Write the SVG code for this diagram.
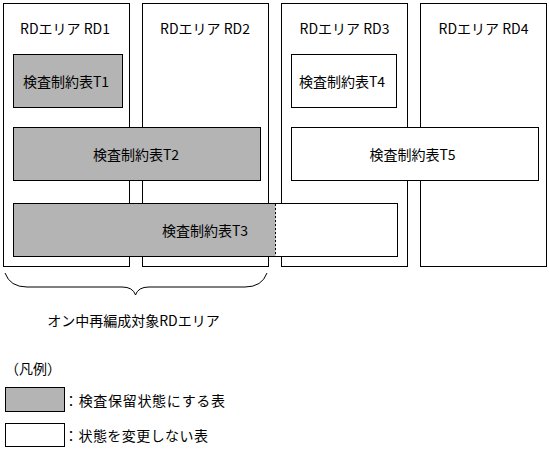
<svg xmlns="http://www.w3.org/2000/svg" width="549" height="450" viewBox="0 0 549 450">
<style>
.area{fill:#fff;stroke:#000;stroke-width:1;shape-rendering:crispEdges}
.hold{fill:#b4b4b4;stroke:#000;stroke-width:1;shape-rendering:crispEdges}
.keep{fill:#fff;stroke:#000;stroke-width:1;shape-rendering:crispEdges}
text{font-family:"MS Gothic","Noto Sans CJK JP","Noto Sans",sans-serif;font-size:14px;fill:#000}
.c{text-anchor:middle;dominant-baseline:central}
.l{dominant-baseline:central}
</style>
<rect width="549" height="450" fill="#fff"/>
<g id="RD1"><rect class="area" x="3.5" y="3.5" width="126" height="263"/><text class="c" x="65" y="27.5">RDエリア RD1</text></g>
<g id="RD2"><rect class="area" x="142.5" y="3.5" width="126" height="263"/><text class="c" x="205" y="27.5">RDエリア RD2</text></g>
<g id="RD3"><rect class="area" x="281.5" y="3.5" width="126" height="263"/><text class="c" x="344.5" y="27.5">RDエリア RD3</text></g>
<g id="RD4"><rect class="area" x="420.5" y="3.5" width="126" height="263"/><text class="c" x="483.5" y="27.5">RDエリア RD4</text></g>
<g id="T1"><rect class="hold" x="13.5" y="54.5" width="109" height="53"/><text class="c" x="66" y="80.5">検査制約表T1</text></g>
<g id="T4"><rect class="keep" x="291.5" y="54.5" width="105" height="53"/><text class="c" x="342" y="80.5">検査制約表T4</text></g>
<g id="T2"><rect class="hold" x="13.5" y="127.5" width="247" height="53"/><text class="c" x="136" y="153.5">検査制約表T2</text></g>
<g id="T5"><rect class="keep" x="291.5" y="127.5" width="247" height="53"/><text class="c" x="412.5" y="153.5">検査制約表T5</text></g>
<g id="T3">
<rect class="keep" x="13.5" y="203.5" width="384" height="53"/>
<rect x="14" y="204" width="261.5" height="52" fill="#b4b4b4"/>
<line x1="275.5" y1="204" x2="275.5" y2="256" stroke="#000" stroke-dasharray="2,2" shape-rendering="crispEdges"/>
<text class="c" x="205" y="229.5">検査制約表T3</text>
</g>
<g id="connectors">
<path d="M5,273 Q10,287 27,287 L122,287 Q133,287 135.5,295 Q138,287 149,287 L245,287 Q262,287 267,273" fill="none" stroke="#000" stroke-width="1"/>
</g>
<g id="brace-label"><text class="c" x="133.5" y="320">オン中再編成対象RDエリア</text></g>
<g id="legend">
<text class="l" x="5" y="368">（凡例）</text>
<rect class="hold" x="5.5" y="387.5" width="59" height="24"/>
<text class="l" x="64" y="399.5" textLength="161" lengthAdjust="spacing">：検査保留状態にする表</text>
<rect class="keep" x="5.5" y="423.5" width="59" height="23"/>
<text class="l" x="64" y="435" textLength="144" lengthAdjust="spacing">：状態を変更しない表</text>
</g>
</svg>
